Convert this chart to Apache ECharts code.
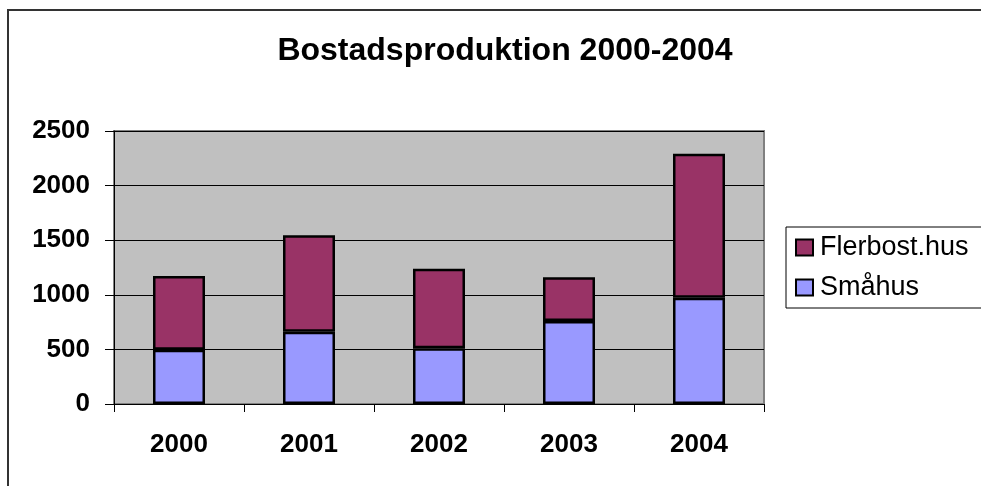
<!DOCTYPE html>
<html>
<head>
<meta charset="utf-8">
<script src="https://cdn.jsdelivr.net/npm/echarts@6/dist/echarts.min.js"></script>
<style>
  html, body { margin: 0; padding: 0; background: #fff; }
  #app { width: 981px; height: 486px; }
</style>
</head>
<body>
<div id="app"></div>
<script>
var years = ['2000', '2001', '2002', '2003', '2004'];
var smahus = [497, 662, 510, 760, 973];
var flerbost = [675, 883, 729, 400, 1319];
var yTicks = [0, 500, 1000, 1500, 2000, 2500];

var font = 'Arial, "Liberation Sans", sans-serif';
var myChart = echarts.init(document.getElementById('app'));
var option = {
    animation: false,
    backgroundColor: '#fff',
    title: {
        text: 'Bostadsproduktion 2000-2004',
        left: 500,
        top: 30,
        textAlign: 'center',
        textStyle: {
            fontFamily: font,
            fontSize: 32,
            fontWeight: 'bold',
            color: '#000',
            lineHeight: 32
        }
    },
    graphic: [{
        type: 'rect',
        shape: { x: 8, y: 10, width: 1000, height: 500 },
        style: { fill: null, stroke: '#333', lineWidth: 2 },
        z: -1
    }],
    legend: {
        orient: 'vertical',
        left: 786,
        top: 227,
        data: ['Flerbost.hus', 'Småhus'],
        backgroundColor: '#fff',
        borderColor: '#000',
        borderWidth: 1,
        padding: [7, 60, 7, 9],
        itemGap: 13,
        itemWidth: 17,
        itemHeight: 16,
        icon: 'rect',
        textStyle: {
            fontFamily: font,
            fontSize: 27,
            color: '#000',
            lineHeight: 27,
            padding: [0, 0, 0, 2]
        }
    },
    grid: {
        left: 114,
        right: 217,
        top: 131,
        bottom: 82,
        show: true,
        backgroundColor: '#c0c0c0',
        borderColor: '#808080',
        borderWidth: 2
    },
    xAxis: {
        type: 'category',
        data: years,
        axisLine: { lineStyle: { color: '#000', width: 1 } },
        axisTick: { show: true, length: 8, lineStyle: { color: '#000' } },
        axisLabel: {
            margin: 28,
            fontFamily: font,
            fontSize: 26,
            fontWeight: 'bold',
            color: '#000'
        }
    },
    yAxis: {
        type: 'value',
        min: yTicks[0],
        max: yTicks[yTicks.length - 1],
        interval: 500,
        axisLine: { show: true, lineStyle: { color: '#000', width: 1 } },
        axisTick: { show: true, length: 9, lineStyle: { color: '#000' } },
        splitLine: { show: true, lineStyle: { color: '#000', width: 1 } },
        axisLabel: {
            margin: 24,
            fontFamily: font,
            fontSize: 26,
            fontWeight: 'bold',
            color: '#000',
            formatter: function (v) { return String(v); }
        }
    },
    series: [{
        name: 'Småhus',
        type: 'bar',
        stack: 'total',
        barWidth: 52,
        data: smahus,
        itemStyle: { color: '#9999ff', borderColor: '#000', borderWidth: 2.5 }
    }, {
        name: 'Flerbost.hus',
        type: 'bar',
        stack: 'total',
        barWidth: 52,
        data: flerbost,
        itemStyle: { color: '#993366', borderColor: '#000', borderWidth: 2.5 }
    }]
};
myChart.setOption(option);
</script>
</body>
</html>
